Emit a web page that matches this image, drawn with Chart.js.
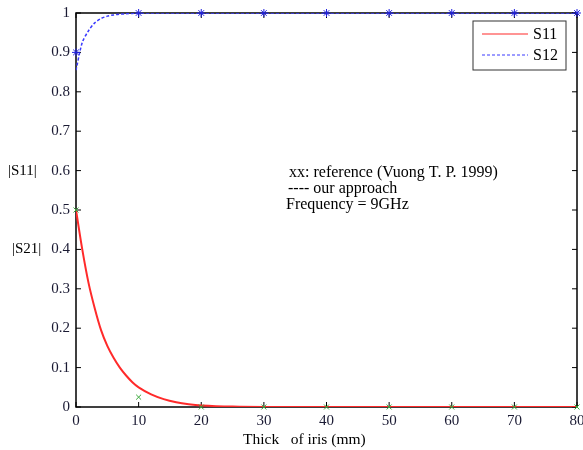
<!DOCTYPE html>
<html>
<head>
<meta charset="utf-8">
<script src="https://cdn.jsdelivr.net/npm/chart.js@4"></script>
<style>
  html, body { margin: 0; padding: 0; background: #fff; }
  #wrap { width: 583px; height: 450px; }
</style>
</head>
<body>
<div id="wrap"><canvas id="chart" width="583" height="450"></canvas></div>
<script>
// our approach curves
let thick = [0, 1, 2, 3, 4, 5, 6, 7, 8, 9, 10, 12, 14, 16, 18, 20, 25, 30, 40, 50, 60, 70, 80];
let s11 = [0.5, 0.4, 0.315, 0.25, 0.195, 0.155, 0.125, 0.1, 0.08, 0.063, 0.05, 0.032, 0.02, 0.012, 0.007, 0.004, 0.001, 0, 0, 0, 0, 0, 0];
let s12 = [0.855, 0.925, 0.955, 0.975, 0.986, 0.992, 0.995, 0.997, 0.998, 0.999, 1, 1, 1, 1, 1, 1, 1, 1, 1, 1, 1, 1, 1];

// reference points (Vuong T. P. 1999)
let refThick = [0, 10, 20, 30, 40, 50, 60, 70, 80];
let refS11 = [0.5, 0.025, 0, 0, 0, 0, 0, 0, 0];
let refS12 = [0.9, 1, 1, 1, 1, 1, 1, 1, 1];

let xTicks = [0, 10, 20, 30, 40, 50, 60, 70, 80];
let yTicks = [0, 0.1, 0.2, 0.3, 0.4, 0.5, 0.6, 0.7, 0.8, 0.9, 1];

const FONT = "'Liberation Serif', 'DejaVu Serif', serif";

const pts = (xs, ys) => xs.map((x, i) => ({ x, y: ys[i] }));

const framePlugin = {
  id: "frame",
  beforeDatasetsDraw(chart) {
    let { ctx, chartArea: a, scales } = chart;
    ctx.save();
    ctx.strokeStyle = "#000";
    ctx.lineWidth = 1.5;
    ctx.strokeRect(a.left, a.top, a.right - a.left, a.bottom - a.top);
    ctx.lineWidth = 1;
    // inward ticks
    ctx.beginPath();
    xTicks.forEach(v => {
      let px = scales.x.getPixelForValue(v);
      ctx.moveTo(px, a.bottom); ctx.lineTo(px, a.bottom - 5);
      ctx.moveTo(px, a.top); ctx.lineTo(px, a.top + 5);
    });
    yTicks.forEach(v => {
      let py = scales.y.getPixelForValue(v);
      ctx.moveTo(a.left, py); ctx.lineTo(a.left + 5, py);
      ctx.moveTo(a.right, py); ctx.lineTo(a.right - 5, py);
    });
    ctx.stroke();
    ctx.restore();
  },
  afterDatasetsDraw(chart) {
    let { ctx, scales } = chart;
    ctx.save();
    // side labels
    ctx.fillStyle = "#000";
    ctx.font = "15px " + FONT;
    ctx.textBaseline = "middle";
    ctx.textAlign = "left";
    ctx.fillText("|S11|", 8, scales.y.getPixelForValue(0.6));
    ctx.fillText("|S21|", 12, scales.y.getPixelForValue(0.4));

    // x title
    ctx.font = "15.5px " + FONT;
    ctx.fillText("Thick   of iris (mm)", 243, 440);

    // annotation
    ctx.font = "16px " + FONT;
    ctx.textBaseline = "alphabetic";
    ctx.fillText("xx: reference (Vuong T. P. 1999)", 289, 177);
    ctx.fillText("---- our approach", 288, 193);
    ctx.fillText("Frequency = 9GHz", 286, 209);

    // legend box
    let lx = 473, ly = 21, lw = 93, lh = 49;
    ctx.fillStyle = "#fff";
    ctx.fillRect(lx, ly, lw, lh);
    ctx.strokeStyle = "#333";
    ctx.lineWidth = 1;
    ctx.strokeRect(lx, ly, lw, lh);
    let items = chart.data.datasets.slice(0, 2);
    items.forEach((ds, i) => {
      let yy = ly + 13 + i * 21;
      ctx.strokeStyle = ds.borderColor;
      ctx.lineWidth = 1.2;
      ctx.setLineDash(ds.borderDash || []);
      ctx.beginPath();
      ctx.moveTo(lx + 9, yy); ctx.lineTo(lx + 55, yy);
      ctx.stroke();
      ctx.setLineDash([]);
      ctx.fillStyle = "#000";
      ctx.font = "16px " + FONT;
      ctx.textBaseline = "middle";
      ctx.fillText(ds.label, lx + 60, yy + 1);
    });
    ctx.restore();
  }
};

new Chart(document.getElementById("chart"), {
  type: "scatter",
  data: {
    datasets: [
      { label: "S11", data: pts(thick, s11), showLine: true, borderColor: "#ff2a2a", borderWidth: 2,
        pointRadius: 0, tension: 0.3, order: 2 },
      { label: "S12", data: pts(thick, s12), showLine: true, borderColor: "#3a3aff", borderWidth: 1.5,
        borderDash: [3, 2], pointRadius: 0, tension: 0.3, order: 2 },
      { label: "ref S11", data: pts(refThick, refS11), showLine: false, pointStyle: "crossRot",
        pointRadius: 3.5, borderColor: "#3aa83a", borderWidth: 1, clip: false, order: 1 },
      { label: "ref S12", data: pts(refThick, refS12), showLine: false, pointStyle: "star",
        pointRadius: 4, borderColor: "#2020e0", borderWidth: 1, clip: false, order: 1 }
    ]
  },
  options: {
    responsive: false,
    animation: false,
    layout: { padding: { left: 0, right: 6, top: 13, bottom: 0 } },
    plugins: { legend: { display: false }, tooltip: { enabled: false } },
    scales: {
      x: {
        type: "linear", min: 0, max: 80,
        afterBuildTicks: s => { s.ticks = xTicks.map(v => ({ value: v })); },
        afterFit: s => { s.height = 43; s.paddingRight = 0; s.paddingLeft = 0; },
        grid: { display: false, drawTicks: false },
        border: { display: false },
        ticks: { color: "#1a1a33", font: { family: FONT, size: 15 }, padding: 5, maxRotation: 0 }
      },
      y: {
        min: 0, max: 1,
        afterBuildTicks: s => { s.ticks = yTicks.map(v => ({ value: v })); },
        afterFit: s => { s.width = 76; s.paddingTop = 0; s.paddingBottom = 0; },
        grid: { display: false, drawTicks: false },
        border: { display: false },
        ticks: { color: "#1a1a33", font: { family: FONT, size: 15 }, padding: 6,
                 callback: v => String(v) }
      }
    }
  },
  plugins: [framePlugin]
});
</script>
</body>
</html>
